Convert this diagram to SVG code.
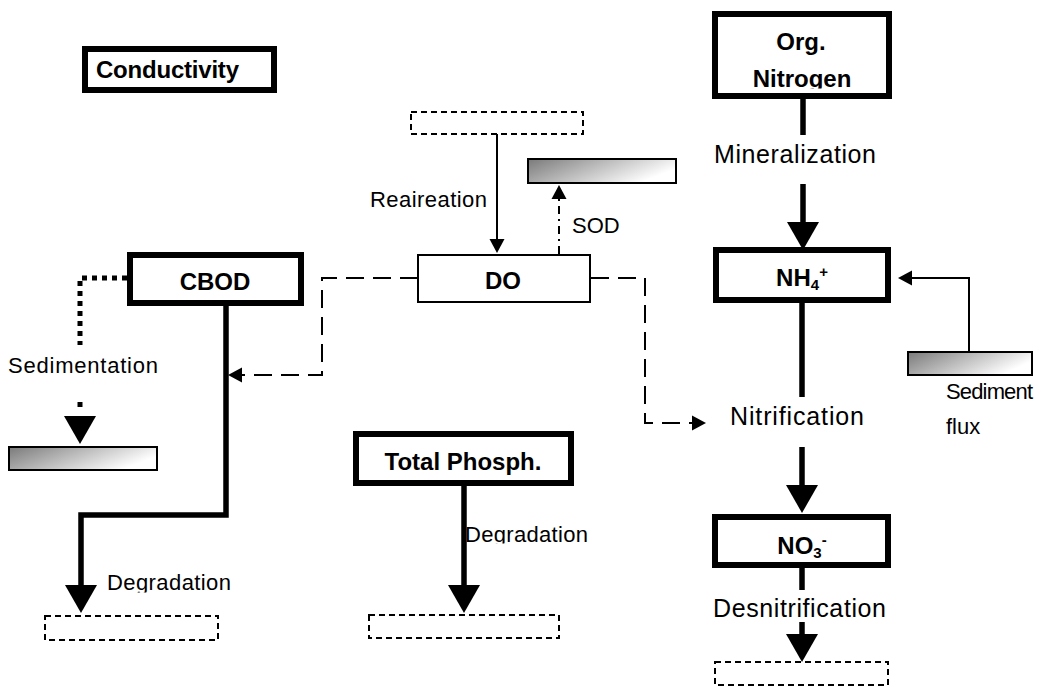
<svg xmlns="http://www.w3.org/2000/svg" width="1046" height="687" viewBox="0 0 1046 687">
<style>
.box{fill:#fff;stroke:#000;stroke-width:6}
.thin{fill:#fff;stroke:#000;stroke-width:2}
.shade{fill:url(#g);stroke:#000;stroke-width:2}
.dbox{fill:none;stroke:#000;stroke-width:2;stroke-dasharray:6 4}
.b{font-family:"Liberation Sans",Arial,sans-serif;font-weight:bold;font-size:24px;fill:#000}
.r{font-family:"Liberation Sans",Arial,sans-serif;font-size:25px;fill:#000}
.s{font-family:"Liberation Sans",Arial,sans-serif;font-size:22px;fill:#000}
.heavy{fill:none;stroke:#000;stroke-width:5.5}
.light{fill:none;stroke:#000;stroke-width:2}
.dash{fill:none;stroke:#000;stroke-width:2;stroke-dasharray:18 9}
.dot{fill:none;stroke:#000;stroke-width:5;stroke-dasharray:5 5}
.dd{fill:none;stroke:#000;stroke-width:2;stroke-dasharray:8 5 2 5}
</style>
<defs>
<linearGradient id="g" x1="0" y1="0" x2="1" y2="0.4">
<stop offset="0" stop-color="#7a7a7a"/>
<stop offset="1" stop-color="#ffffff"/>
</linearGradient>
<marker id="ah" markerUnits="userSpaceOnUse" markerWidth="30" markerHeight="32" refX="0" refY="16" orient="auto" overflow="visible">
<path d="M0,0 L28,16 L0,32 Z" fill="#000"/>
</marker>
<marker id="as" markerUnits="userSpaceOnUse" markerWidth="16" markerHeight="14" refX="0" refY="7.5" orient="auto" overflow="visible">
<path d="M0,0 L14,7.5 L0,15 Z" fill="#000"/>
</marker>
<clipPath id="cN"><rect x="700" y="0" width="200" height="88.5"/></clipPath>
<clipPath id="cD1"><rect x="90" y="560" width="160" height="32.5"/></clipPath>
<clipPath id="cD2"><rect x="440" y="510" width="160" height="33.5"/></clipPath>
</defs>

<g id="conductivity">
<rect class="box" x="85" y="49" width="189" height="41"/>
<text class="b" x="96" y="78" textLength="143">Conductivity</text>
</g>

<g id="org-nitrogen">
<rect class="box" x="715" y="14" width="174" height="82"/>
<text class="b" x="801" y="50" text-anchor="middle">Org.</text>
<text class="b" x="802" y="87" text-anchor="middle" clip-path="url(#cN)">Nitrogen</text>
</g>

<g id="nh4">
<rect class="box" x="716" y="250" width="172" height="50"/>
<text class="b" x="802" y="286" text-anchor="middle">NH<tspan font-size="15" dy="4">4</tspan><tspan font-size="15" dy="-13">+</tspan></text>
</g>

<g id="no3">
<rect class="box" x="715" y="517" width="173" height="48"/>
<text class="b" x="802" y="554" text-anchor="middle">NO<tspan font-size="15" dy="4">3</tspan><tspan font-size="15" dy="-13">-</tspan></text>
</g>

<g id="cbod">
<rect class="box" x="130" y="255" width="171" height="48"/>
<text class="b" x="215" y="290" text-anchor="middle">CBOD</text>
</g>

<g id="do">
<rect class="thin" x="418" y="255" width="172" height="47"/>
<text class="b" x="503" y="289" text-anchor="middle">DO</text>
</g>

<g id="total-phosph">
<rect class="box" x="356" y="434" width="215" height="49"/>
<text class="b" x="463" y="470" text-anchor="middle">Total Phosph.</text>
</g>

<g id="atmosphere">
<rect class="dbox" x="411" y="112" width="172" height="22"/>
</g>
<g id="sod-sediment">
<rect class="shade" x="528" y="159" width="148" height="24"/>
</g>
<g id="flux-sediment">
<rect class="shade" x="908" y="352" width="124" height="23"/>
</g>
<g id="sed-sediment">
<rect class="shade" x="9" y="447" width="148" height="23"/>
</g>
<g id="sink-cbod">
<rect class="dbox" x="45" y="616" width="173" height="24"/>
</g>
<g id="sink-tp">
<rect class="dbox" x="369" y="615" width="190" height="23"/>
</g>
<g id="sink-no3">
<rect class="dbox" x="715" y="662" width="173" height="23"/>
</g>

<g id="labels">
<text class="r" x="714" y="163" textLength="162">Mineralization</text>
<text class="r" x="730" y="425" textLength="134">Nitrification</text>
<text class="r" x="713" y="617" textLength="173">Desnitrification</text>
<text class="s" x="946" y="399" font-size="19" textLength="87">Sediment</text>
<text class="s" x="946" y="434" font-size="19">flux</text>
<text class="s" x="572" y="233" font-size="20">SOD</text>
<text class="s" x="370" y="207" textLength="117">Reaireation</text>
<text class="s" x="8" y="373" textLength="150">Sedimentation</text>
<text class="s" x="107" y="590" textLength="124" clip-path="url(#cD1)">Degradation</text>
<text class="s" x="465" y="542" textLength="123" clip-path="url(#cD2)">Degradation</text>
</g>

<g id="connectors">
<path class="heavy" d="M803,99 V135"/>
<path class="heavy" d="M803,184 V222" marker-end="url(#ah)"/>
<path class="heavy" d="M802,303 V397"/>
<path class="heavy" d="M802,447 V485" marker-end="url(#ah)"/>
<path class="heavy" d="M802,568 V590"/>
<path class="heavy" d="M802,622 V634" marker-end="url(#ah)"/>
<path class="heavy" d="M226,306 V515 H81 V585" marker-end="url(#ah)"/>
<path class="heavy" d="M464,486 V585" marker-end="url(#ah)"/>
<path class="dot" d="M127,278 H80 V345"/>
<path class="dot" d="M80,402 V416" style="stroke-dasharray:5 12" marker-end="url(#ah)"/>
<path class="light" d="M497,134 V239" marker-end="url(#as)"/>
<path class="dd" d="M559,254 V199" marker-end="url(#as)"/>
<path class="light" d="M969,351 V278 H912" marker-end="url(#as)"/>
<path class="dash" d="M418,278 H322 V375 H242" marker-end="url(#as)"/>
<path class="dash" d="M591,278 H645 V423 H692" marker-end="url(#as)"/>
</g>
</svg>
